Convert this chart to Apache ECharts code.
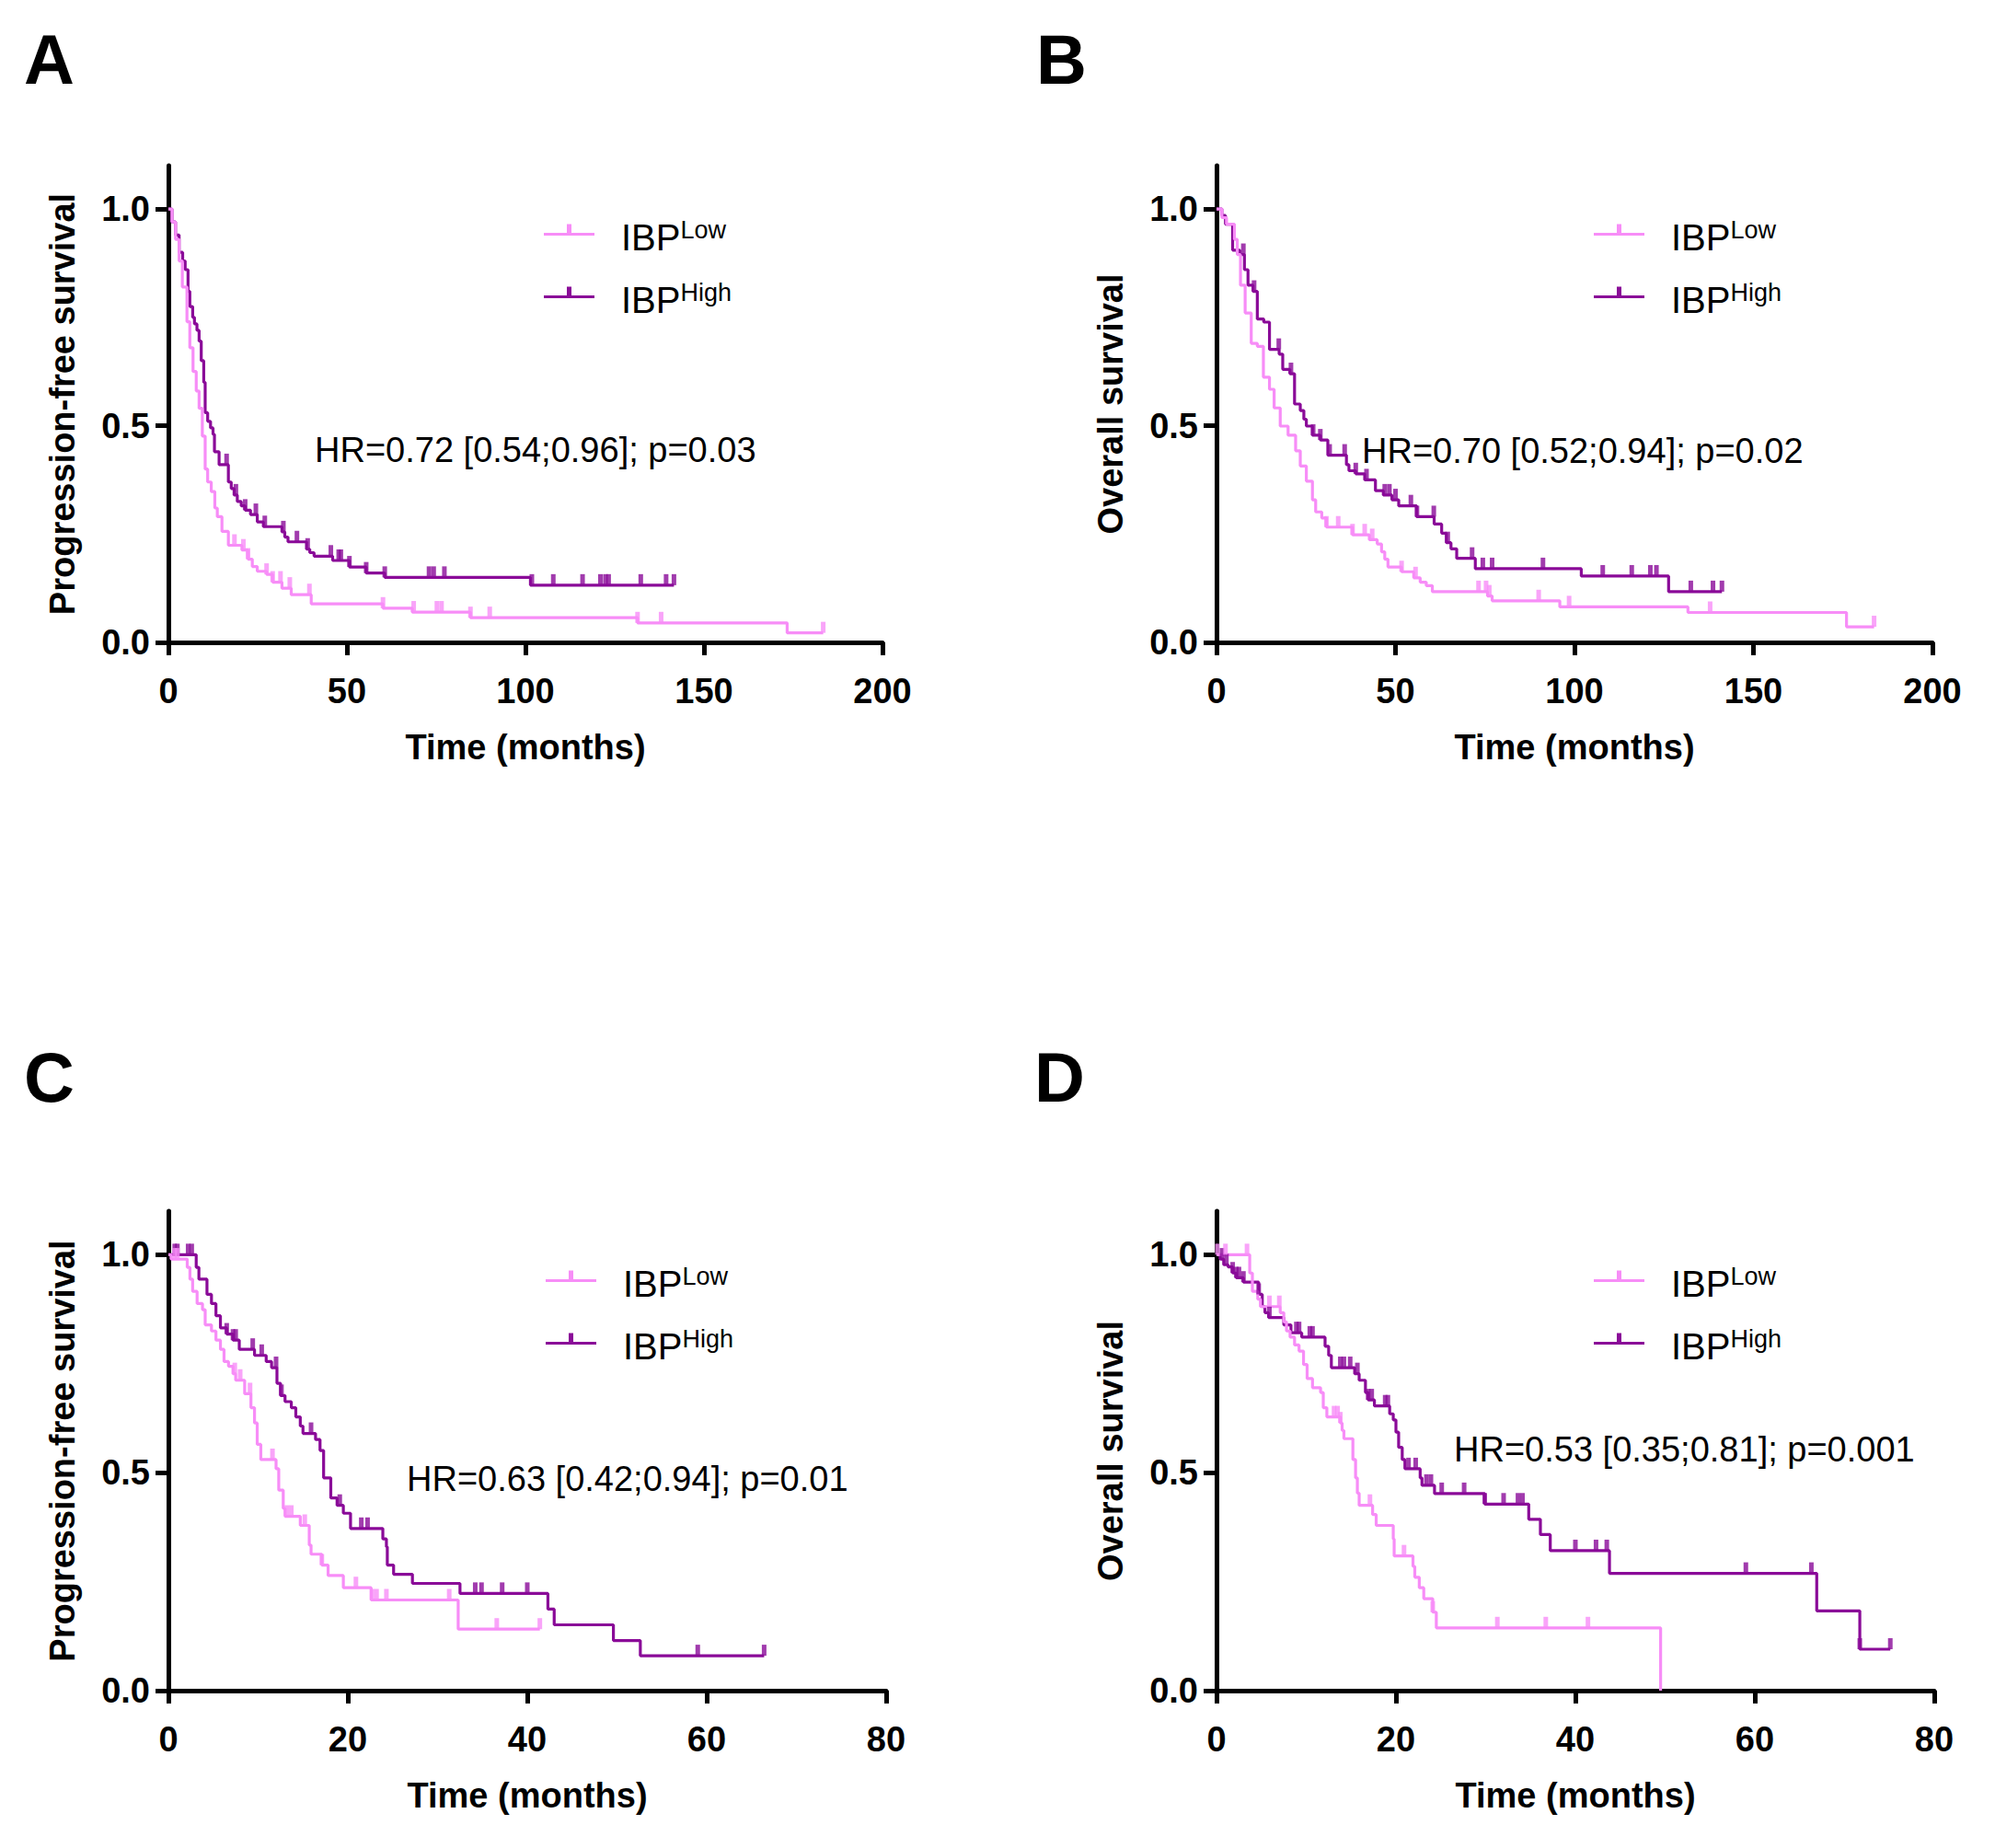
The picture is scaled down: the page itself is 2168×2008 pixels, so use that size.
<!DOCTYPE html>
<html>
<head>
<meta charset="utf-8">
<script src="https://cdn.jsdelivr.net/npm/echarts@6/dist/echarts.min.js"></script>
<style>
  html, body { margin: 0; padding: 0; background: #fff; }
  #chart { width: 2168px; height: 2008px; }
</style>
</head>
<body>
<div id="chart"></div>
<script>
// --- Data: Kaplan-Meier steps [time (months), survival] and censor times ---
var xTicksLong = [0, 50, 100, 150, 200];
var xTicksShort = [0, 20, 40, 60, 80];
var yTicks = [0, 0.5, 1.0];

// A: progression-free survival, cohort 1
var aHigh = [[0,1],[1,0.97],[2,0.94],[3,0.90],[4,0.88],[4.7,0.86],[5.5,0.81],[6,0.775],[6.8,0.75],[7.3,0.735],
  [8,0.72],[8.6,0.695],[9.2,0.65],[9.9,0.60],[10.3,0.53],[11,0.51],[11.8,0.495],[12.5,0.48],[12.9,0.44],[14.2,0.41],
  [16.8,0.37],[17.6,0.355],[18.4,0.34],[19.3,0.325],[20.4,0.315],[21.5,0.305],[23,0.295],[24.9,0.278],[26.6,0.267],[31.8,0.255],
  [32.6,0.243],[33.5,0.232],[38.7,0.215],[39.6,0.207],[40.8,0.199],[46,0.189],[50.7,0.174],[55.4,0.16],[60.6,0.15],[101.4,0.132],[141.6,0.132]];
var aLow = [[0,1],[1,0.97],[2,0.93],[3,0.88],[3.9,0.82],[5.2,0.74],[6,0.68],[6.9,0.625],[7.8,0.58],[8.6,0.54],
  [9.5,0.476],[10.3,0.40],[11,0.37],[12,0.348],[13,0.31],[13.7,0.29],[15,0.256],[16.8,0.224],[20.6,0.213],[22.3,0.192],
  [23.5,0.175],[24.9,0.164],[27.5,0.157],[29.2,0.139],[31.8,0.125],[34.4,0.11],[40,0.089],[60.1,0.079],[68.3,0.07],[84.6,0.057],
  [131.4,0.045],[173.3,0.022],[183.4,0.022]];
var aHighCens = [16.3, 18.9, 21.5, 24.5, 27, 32.2, 36, 39, 45.5, 47.7, 48.3, 50.7, 55.4, 60.6, 73, 74.3, 77.3,
  101.8, 107.8, 116, 121, 122.4, 123.3, 132.3, 139.4, 141.6];
var aLowCens = [18.5, 21, 22.3, 27.5, 29.2, 31.4, 34, 39.5, 60.1, 68.7, 75.2, 76.5, 84.6, 90, 131.4, 138, 183.4];

// B: overall survival, cohort 1
var bHigh = [[0,1],[1.5,0.985],[2.5,0.965],[4.5,0.905],[6.5,0.895],[7.8,0.86],[8.8,0.824],[10.2,0.81],[11.4,0.746],[13.2,0.739],
  [14.8,0.676],[17.5,0.665],[18.5,0.63],[20.5,0.62],[21.8,0.55],[23.4,0.535],[24.4,0.515],[25.1,0.499],[26.8,0.478],[29,0.467],
  [31.1,0.432],[36.3,0.41],[37,0.396],[38.9,0.389],[41.4,0.375],[44.4,0.35],[46.6,0.34],[49,0.329],[50.9,0.315],[55.9,0.29],
  [60.8,0.273],[62.9,0.252],[64.2,0.23],[65.5,0.216],[67.1,0.194],[72.3,0.17],[101.9,0.153],[126.3,0.117],[141.2,0.117]];
var bLow = [[0,1],[1.5,0.98],[2.8,0.965],[5,0.93],[5.8,0.895],[6.7,0.824],[8,0.76],[9.7,0.69],[11.4,0.683],[13.1,0.612],
  [14.8,0.584],[16.1,0.541],[17.8,0.499],[20,0.478],[22.1,0.442],[23.4,0.407],[25.1,0.372],[26.8,0.329],[27.7,0.301],[29.4,0.287],
  [30.7,0.266],[38,0.248],[42.7,0.237],[44.9,0.227],[46.1,0.209],[47,0.192],[47.9,0.174],[51.7,0.163],[55.1,0.149],[56.9,0.139],
  [58.6,0.131],[60.3,0.117],[75.7,0.107],[77,0.096],[95.9,0.082],[131.7,0.069],[176,0.036],[183.7,0.036]];
var bHighCens = [7.5, 10.5, 17.4, 20.8, 27, 29, 31.6, 35.8, 38.9, 41.9, 47, 48.3, 50, 54.3, 56, 60.7, 64.6, 71.4,
  74.4, 77, 91.2, 107.9, 116, 121.2, 122.9, 132.5, 138.7, 141.2];
var bLowCens = [30.7, 34, 38, 41.4, 43.5, 51.7, 55.6, 73.2, 75.3, 76.2, 90, 98.5, 137.9, 183.7];

// C: progression-free survival, cohort 2
var cHigh = [[0,1],[3.1,0.971],[3.4,0.944],[4.3,0.909],[4.8,0.888],[5.3,0.86],[5.8,0.832],[6.5,0.818],[7.2,0.804],[7.9,0.783],
  [9.6,0.769],[10.9,0.755],[11.5,0.741],[12.1,0.705],[12.5,0.677],[13,0.663],[13.7,0.649],[14.2,0.628],[14.7,0.607],[15,0.59],
  [16.4,0.576],[16.9,0.551],[17.3,0.488],[18.1,0.442],[18.8,0.425],[19.5,0.407],[20.3,0.372],[23.9,0.348],[24.3,0.33],[24.4,0.288],
  [25.1,0.267],[27.2,0.246],[32.5,0.223],[42.3,0.187],[43,0.151],[49.6,0.115],[52.6,0.08],[66.4,0.08]];
var cLow = [[0,1],[0.3,0.99],[2.1,0.971],[2.4,0.944],[2.7,0.916],[3.2,0.888],[3.8,0.874],[4.1,0.839],[4.8,0.825],[5.3,0.804],
  [5.8,0.783],[6.2,0.755],[6.7,0.744],[7.2,0.727],[7.5,0.712],[8.5,0.681],[9.2,0.649],[9.6,0.614],[9.9,0.565],[10.3,0.53],
  [12,0.509],[12.3,0.46],[12.8,0.418],[13,0.4],[14.7,0.379],[15.7,0.334],[15.9,0.313],[17.1,0.288],[17.8,0.264],[19.5,0.236],
  [22.6,0.208],[32.3,0.141],[41.4,0.141]];
var cHighCens = [0.7, 1, 2.2, 2.6, 6.5, 7.2, 7.5, 9.4, 10.4, 12, 12.6, 15.9, 19.1, 21.5, 22.2, 34.2, 34.9, 37.2, 40, 59, 66.4];
var cLowCens = [0.7, 1, 7.4, 8, 9.1, 11.6, 13.2, 13.7, 15.2, 17.1, 20.9, 22.7, 23.2, 24.3, 31.3, 36.6, 41.4];

// D: overall survival, cohort 2
var dHigh = [[0,1],[0.4,0.99],[0.8,0.977],[1.3,0.972],[1.8,0.958],[2.2,0.947],[3,0.937],[4.7,0.909],[5.1,0.881],[5.4,0.867],
  [5.8,0.856],[7.5,0.839],[8.3,0.821],[9.5,0.811],[12.1,0.79],[12.5,0.769],[12.8,0.741],[15.4,0.727],[15.9,0.712],[16.6,0.684],
  [16.9,0.667],[17.6,0.653],[19.3,0.635],[19.7,0.621],[20,0.593],[20.3,0.558],[20.7,0.53],[21,0.509],[22.7,0.488],[22.9,0.471],
  [24.3,0.452],[29.9,0.428],[34.8,0.393],[36.1,0.358],[37.2,0.321],[43.8,0.269],[66.9,0.183],[71.7,0.095],[75.1,0.095]];
var dLow = [[0,1],[3.7,0.958],[4,0.916],[4.6,0.898],[4.9,0.881],[7.1,0.867],[7.5,0.846],[7.8,0.825],[8.2,0.811],[8.7,0.793],
  [9.2,0.779],[9.7,0.748],[10.1,0.716],[10.7,0.695],[11.6,0.684],[11.9,0.649],[12.3,0.628],[13.8,0.614],[14,0.597],[14.2,0.578],
  [15.2,0.53],[15.5,0.488],[15.7,0.453],[15.9,0.425],[17.4,0.404],[17.8,0.379],[19.7,0.348],[19.8,0.309],[21.9,0.285],[22.1,0.26],
  [22.6,0.236],[23.1,0.211],[24.1,0.18],[24.5,0.144],[49.5,0]];
var dHighCens = [0.6, 1.1, 1.8, 2.2, 2.5, 3, 4.7, 5.9, 8.9, 9.2, 10.4, 10.7, 13.8, 14.2, 14.9, 15.7, 16.9, 17.3, 18.8, 19.1,
  21.4, 22.2, 23.4, 23.9, 25.1, 27.6, 29.9, 32, 33.6, 34.1, 40, 42.3, 43.5, 59, 66.3, 71.7, 75.1];
var dLowCens = [0.1, 1, 3.4, 5.9, 7, 13.1, 13.5, 13.8, 17.1, 20.9, 24.1, 31.3, 36.7, 41.4];

var hrTexts = ['HR=0.72 [0.54;0.96]; p=0.03', 'HR=0.70 [0.52;0.94]; p=0.02',
  'HR=0.63 [0.42;0.94]; p=0.01', 'HR=0.53 [0.35;0.81]; p=0.001'];

(function() {
  var font = "'Liberation Sans', Arial, Helvetica, sans-serif";
  var pink = '#F78DF7';
  var purple = '#8A0A98';
  // legend glyph: a line with a censor tick (tiny dot at bottom keeps it centred)
  var tickIcon = 'path://M0,10.5L55,10.5L55,13.5L0,13.5Z M25,1L30,1L30,11L25,11Z M27,30L27.05,30L27,29.95Z';

  var panels = [
    { letter: 'A', grid: { left: 183, top: 180, width: 776, height: 518 }, ticks: xTicksLong,
      yName: 'Progression-free survival', high: aHigh, low: aLow, highCens: aHighCens, lowCens: aLowCens,
      hrPos: [342, 489], legendPos: [586, 231], letterPos: [26, 64] },
    { letter: 'B', grid: { left: 1322, top: 180, width: 778, height: 518 }, ticks: xTicksLong,
      yName: 'Overall survival', high: bHigh, low: bLow, highCens: bHighCens, lowCens: bLowCens,
      hrPos: [1480, 490], legendPos: [1727, 231], letterPos: [1126, 64] },
    { letter: 'C', grid: { left: 183, top: 1316, width: 780, height: 521 }, ticks: xTicksShort,
      yName: 'Progression-free survival', high: cHigh, low: cLow, highCens: cHighCens, lowCens: cLowCens,
      hrPos: [442, 1607], legendPos: [588, 1368], letterPos: [26, 1170] },
    { letter: 'D', grid: { left: 1322, top: 1316, width: 780, height: 521 }, ticks: xTicksShort,
      yName: 'Overall survival', high: dHigh, low: dLow, highCens: dHighCens, lowCens: dLowCens,
      hrPos: [1580, 1575], legendPos: [1727, 1368], letterPos: [1124, 1170] }
  ];

  function survivalAt(steps, t) {
    var s = steps[0][1];
    for (var i = 0; i < steps.length; i++) {
      if (steps[i][0] <= t) s = steps[i][1];
    }
    return s;
  }
  function censorPoints(steps, times) {
    return times.map(function(t) { return [t, survivalAt(steps, t)]; });
  }

  var labelStyle = { fontFamily: font, fontSize: 38, fontWeight: 'bold', color: '#000' };
  var grids = [], xAxes = [], yAxes = [], series = [], legends = [], graphics = [];

  panels.forEach(function(p, i) {
    grids.push(p.grid);
    var xs = p.ticks;
    xAxes.push({
      gridIndex: i, type: 'value', min: xs[0], max: xs[xs.length - 1], interval: xs[1] - xs[0],
      name: 'Time (months)', nameLocation: 'middle', nameGap: 95, nameTextStyle: labelStyle,
      axisLine: { show: true, lineStyle: { color: '#000', width: 5 } },
      axisTick: { show: true, length: 14, lineStyle: { color: '#000', width: 5 } },
      axisLabel: Object.assign({ margin: 34 }, labelStyle),
      splitLine: { show: false }
    });
    yAxes.push({
      gridIndex: i, type: 'value', min: 0, max: 1.1,
      name: p.yName, nameLocation: 'middle', nameGap: 96, nameRotate: 90, nameTextStyle: labelStyle,
      axisLine: { show: true, onZero: false, lineStyle: { color: '#000', width: 5 } },
      axisTick: { show: true, length: 14, customValues: yTicks, lineStyle: { color: '#000', width: 5 } },
      axisLabel: Object.assign({ margin: 20, customValues: yTicks, formatter: function(v) { return v.toFixed(1); } }, labelStyle),
      splitLine: { show: false }
    });

    [['IBP High', p.high, p.highCens, purple], ['IBP Low', p.low, p.lowCens, pink]].forEach(function(g) {
      series.push({
        type: 'line', name: g[0], xAxisIndex: i, yAxisIndex: i, step: 'end',
        symbol: 'none', showSymbol: false, data: g[1],
        lineStyle: { color: g[3], width: 3.2 }, itemStyle: { color: g[3] }, z: 2
      });
      series.push({
        type: 'scatter', name: g[0] + ' censored', xAxisIndex: i, yAxisIndex: i,
        symbol: 'rect', symbolSize: [5, 12], symbolOffset: [0, -6], silent: true,
        itemStyle: { color: g[3] }, data: censorPoints(g[1], g[2]), z: 3
      });
    });

    legends.push({
      left: p.legendPos[0], top: p.legendPos[1], orient: 'vertical',
      itemWidth: 55, itemHeight: 29, itemGap: 26, icon: tickIcon, selectedMode: false,
      data: ['IBP Low', 'IBP High'],
      formatter: function(name) { return '{b|IBP}{s|' + name.split(' ')[1] + '}'; },
      textStyle: {
        rich: {
          b: { fontFamily: font, fontSize: 40, lineHeight: 44, color: '#000', padding: [0, 0, 0, 24] },
          s: { fontFamily: font, fontSize: 27, lineHeight: 18, color: '#000', verticalAlign: 'top' }
        }
      }
    });

    graphics.push({
      type: 'text', x: p.letterPos[0], y: p.letterPos[1],
      style: { text: p.letter, fontFamily: font, fontSize: 76, fontWeight: 'bold', fill: '#000', verticalAlign: 'middle' }
    });
    graphics.push({
      type: 'text', x: p.hrPos[0], y: p.hrPos[1],
      style: { text: hrTexts[i], fontFamily: font, fontSize: 38, fill: '#000', verticalAlign: 'middle' }
    });
  });

  var chart = echarts.init(document.getElementById('chart'), null, { renderer: 'svg' });
  chart.setOption({
    animation: false,
    backgroundColor: '#fff',
    grid: grids,
    xAxis: xAxes,
    yAxis: yAxes,
    legend: legends,
    series: series,
    graphic: graphics
  });

  window.addEventListener('resize', function() { chart.resize(); });
})();
</script>
</body>
</html>
